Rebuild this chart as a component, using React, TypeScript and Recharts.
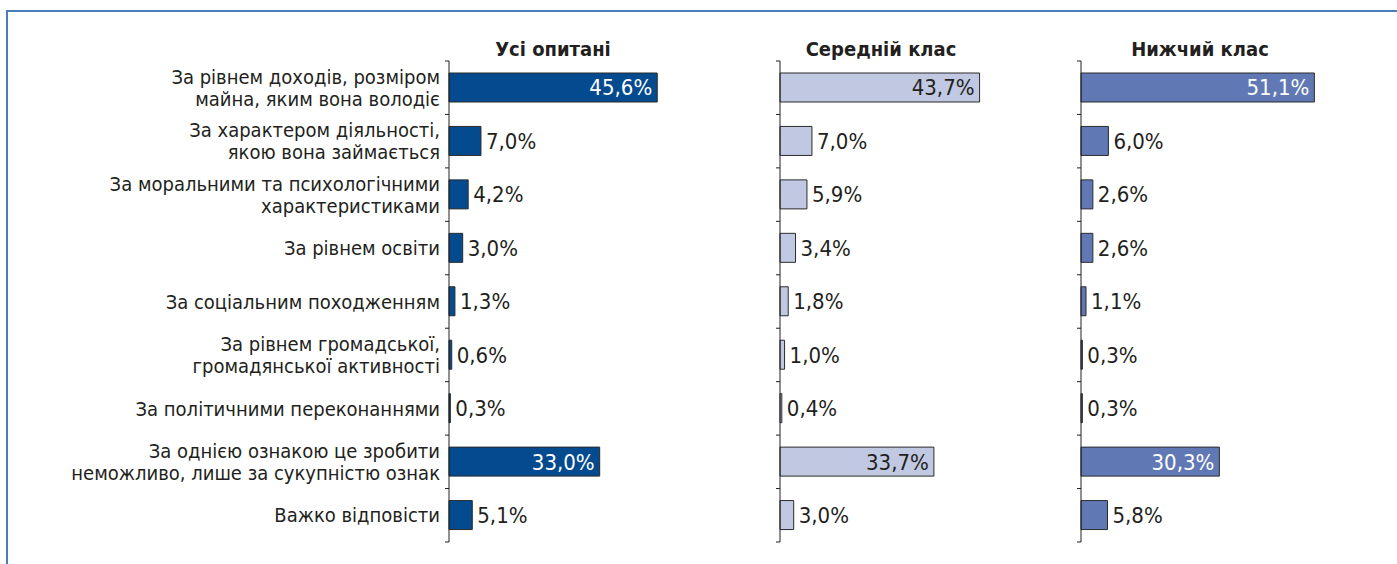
import React from 'react'
import { BarChart, Bar, XAxis, YAxis, LabelList } from 'recharts'

const categories = [
  'За рівнем доходів, розміром\nмайна, яким вона володіє',
  'За характером діяльності,\nякою вона займається',
  'За моральними та психологічними\nхарактеристиками',
  'За рівнем освіти',
  'За соціальним походженням',
  'За рівнем громадської,\nгромадянської активності',
  'За політичними переконаннями',
  'За однією ознакою це зробити\nнеможливо, лише за сукупністю ознак',
  'Важко відповісти',
]

const allRespondents = [45.6, 7.0, 4.2, 3.0, 1.3, 0.6, 0.3, 33.0, 5.1]
const middleClass = [43.7, 7.0, 5.9, 3.4, 1.8, 1.0, 0.4, 33.7, 3.0]
const lowerClass = [51.1, 6.0, 2.6, 2.6, 1.1, 0.3, 0.3, 30.3, 5.8]

const panelTitles = ['Усі опитані', 'Середній клас', 'Нижчий клас']

const FONT = "'DejaVu Sans Condensed', 'Liberation Sans', sans-serif"
const TEXT = '#231f20'
const PLOT_W = 274 // 0..60 %
const TOP = 61
const BOTTOM = 22
const HEIGHT = 564
const BAND = (HEIGHT - TOP - BOTTOM) / categories.length

const rows = categories.map((name, i) => ({
  name,
  all: allRespondents[i],
  middle: middleClass[i],
  lower: lowerClass[i],
}))

const fmt = (v: number) => v.toFixed(1).replace('.', ',') + '%'

const makeValueLabel = (insideColor: string) => (props: any) => {
  const { x, y, width, height, value } = props
  const inside = value > 20
  return (
    <text
      x={inside ? x + width - 5 : x + width + 5}
      y={y + height / 2}
      dy="0.36em"
      textAnchor={inside ? 'end' : 'start'}
      fill={inside ? insideColor : TEXT}
      fontSize={22}
      fontFamily={FONT}
    >
      {fmt(value)}
    </text>
  )
}

// category tick: boundary tick marks plus (optionally) the category text
const makeCategoryTick = (showText: boolean) => (props: any) => {
  const { x, y, index, payload } = props
  const lines = String(payload.value).split('\n')
  const last = index === categories.length - 1
  return (
    <g>
      <line x1={x - 4} x2={x} y1={y - BAND / 2} y2={y - BAND / 2} stroke={TEXT} />
      {last && <line x1={x - 4} x2={x} y1={y + BAND / 2} y2={y + BAND / 2} stroke={TEXT} />}
      {showText && (
        <text x={x - 9} y={y} textAnchor="end" fill={TEXT} fontSize={20} fontFamily={FONT}>
          {lines.map((line, i) => (
            <tspan
              key={i}
              x={x - 9}
              dy={i === 0 ? `${0.36 - (lines.length - 1) * 0.55}em` : '1.1em'}
            >
              {line}
            </tspan>
          ))}
        </text>
      )}
    </g>
  )
}

interface PanelProps {
  dataKey: string
  fill: string
  insideColor: string
  left: number
  axisWidth: number
  showCategories?: boolean
}

function Panel({ dataKey, fill, insideColor, left, axisWidth, showCategories }: PanelProps) {
  return (
    <div style={{ position: 'absolute', left, top: 0 }}>
      <BarChart
        layout="vertical"
        width={axisWidth + PLOT_W + 10}
        height={HEIGHT}
        data={rows}
        margin={{ top: TOP, bottom: BOTTOM, left: 0, right: 10 }}
      >
        <XAxis type="number" domain={[0, 60]} hide />
        <YAxis
          type="category"
          dataKey="name"
          width={axisWidth}
          interval={0}
          tickLine={false}
          tickSize={0}
          tickMargin={0}
          axisLine={{ stroke: TEXT }}
          tick={makeCategoryTick(!!showCategories)}
        />
        <Bar
          dataKey={dataKey}
          fill={fill}
          stroke="#2b2b2b"
          strokeWidth={1}
          barSize={29}
          isAnimationActive={false}
        >
          <LabelList dataKey={dataKey} content={makeValueLabel(insideColor)} />
        </Bar>
      </BarChart>
    </div>
  )
}

const titleCenters = [553, 881, 1200]

export default function App() {
  return (
    <div
      style={{
        position: 'absolute',
        left: 0,
        top: 0,
        width: 1397,
        height: 564,
        overflow: 'hidden',
        background: '#fff',
      }}
    >
      <div
        style={{
          position: 'absolute',
          left: 6,
          top: 10,
          width: 1397,
          height: 600,
          borderTop: '2px solid #4a7ebb',
          borderLeft: '2px solid #4a7ebb',
        }}
      />
      {panelTitles.map((t, i) => (
        <div
          key={t}
          style={{
            position: 'absolute',
            left: titleCenters[i] - 150,
            width: 300,
            top: 37,
            textAlign: 'center',
            fontFamily: FONT,
            fontWeight: 'bold',
            fontSize: 20,
            lineHeight: '24px',
            color: TEXT,
          }}
        >
          {t}
        </div>
      ))}
      <Panel dataKey="all" fill="#034a8f" insideColor="#fff" left={0} axisWidth={449} showCategories />
      <Panel dataKey="middle" fill="#c1c9e2" insideColor={TEXT} left={770} axisWidth={10} />
      <Panel dataKey="lower" fill="#6079b5" insideColor="#fff" left={1071} axisWidth={10} />
    </div>
  )
}
